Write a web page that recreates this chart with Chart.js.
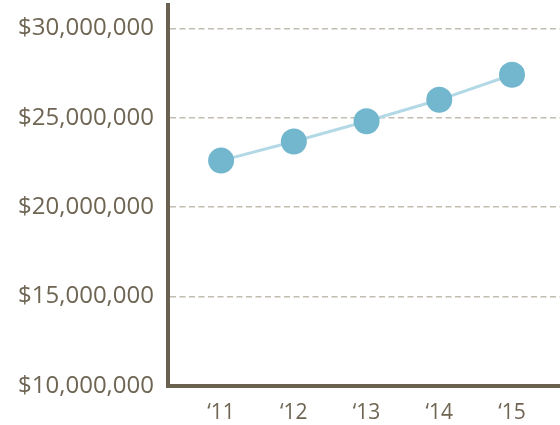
<!DOCTYPE html>
<html><head><meta charset="utf-8">
<script src="https://cdn.jsdelivr.net/npm/chart.js@4"></script>
<style>html,body{margin:0;padding:0;background:#fff}#wrap{width:560px;height:425px}</style>
</head><body><div id="wrap"><canvas id="c" width="560" height="425"></canvas></div>
<script>
const years = [2011, 2012, 2013, 2014, 2015];
const yearLabels = ['\u201811', '\u201812', '\u201813', '\u201814', '\u201815'];
const revenue = [22600000, 23670000, 24800000, 26000000, 27400000];
const yTicks = [10000000, 15000000, 20000000, 25000000, 30000000];

const axisColor = '#6b6150';
const textColor = '#6e6553';
new Chart(document.getElementById('c'), {
  type: 'line',
  data: {
    datasets: [{
      data: years.map((y, i) => ({x: y, y: revenue[i]})),
      borderColor: '#b3d9e6',
      borderWidth: 3,
      pointRadius: 13,
      pointHoverRadius: 13,
      pointBackgroundColor: '#72b7cd',
      pointBorderColor: '#72b7cd',
      pointBorderWidth: 0,
      tension: 0,
      clip: false
    }]
  },
  options: {
    responsive: false,
    animation: false,
    layout: {autoPadding: false, padding: {top: 5, right: 0, left: 0, bottom: 0}},
    plugins: {legend: {display: false}, tooltip: {enabled: false}},
    scales: {
      x: {
        type: 'linear',
        min: 2010.27,
        max: 2015.66,
        afterBuildTicks: s => { s.ticks = years.map(v => ({value: v})); },
        afterFit: s => { s.height = 39; s.paddingLeft = 0; s.paddingRight = 0; },
        grid: {display: false, drawTicks: false},
        border: {color: axisColor, width: 4},
        ticks: {
          padding: 14,
          color: textColor,
          font: {family: 'Open Sans', size: 21},
          callback: (v) => yearLabels[years.indexOf(v)]
        }
      },
      y: {
        min: 10000000,
        max: 31300000,
        afterBuildTicks: s => { s.ticks = yTicks.map(v => ({value: v})); },
        afterFit: s => { s.width = 168; s.paddingTop = 0; s.paddingBottom = 0; },
        grid: {color: '#c3bcb0', lineWidth: 1.5, drawTicks: false},
        border: {color: axisColor, width: 4, dash: [6, 3.5]},
        ticks: {
          padding: 14,
          color: textColor,
          font: {family: 'Open Sans', size: 24},
          callback: v => '$' + v.toLocaleString('en-US')
        }
      }
    }
  }
});
</script></body></html>
